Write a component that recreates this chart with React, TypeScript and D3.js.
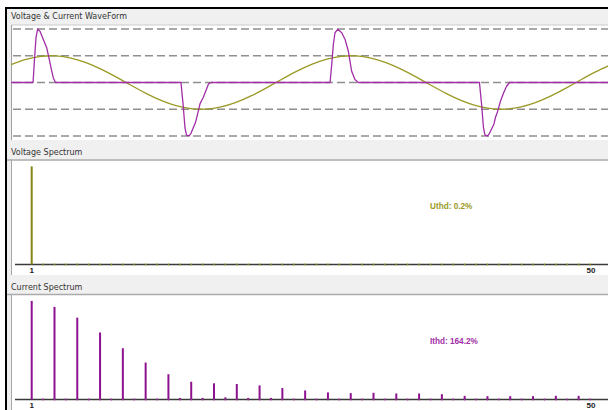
import React from 'react';
import * as d3 from 'd3';

const W = 608;
const H = 410;

// Waveform window: two mains cycles, time in milliseconds
const waveTimeMs = [
  0, 1, 2, 3, 4, 5, 6, 7, 8, 9, 10, 11, 12, 13, 14, 15, 16, 17, 18, 19, 20,
  21, 22, 23, 24, 25, 26, 27, 28, 29, 30, 31, 32, 33, 34, 35, 36, 37, 38, 39, 40,
];
// Voltage, per-unit of peak
const voltagePu = [
  0.669, 0.866, 0.978, 0.995, 0.914, 0.744, 0.501, 0.209, -0.103, -0.406, -0.669,
  -0.866, -0.978, -0.995, -0.914, -0.744, -0.501, -0.209, 0.103, 0.406, 0.669,
  0.866, 0.978, 0.995, 0.914, 0.744, 0.501, 0.209, -0.103, -0.406, -0.669,
  -0.866, -0.978, -0.995, -0.914, -0.744, -0.501, -0.209, 0.103, 0.406, 0.669,
];

// Current pulses (rectifier input), sampled times and values
const currentTimeMs = [
  0,
  1.47, 1.57, 1.67, 1.78, 1.93, 2.15, 2.38, 2.53, 2.67, 2.82, 2.97,
  11.33, 11.47, 11.6, 11.7, 11.87, 12.0, 12.13, 12.3, 12.43, 12.6, 12.82, 13.0, 13.17, 13.33,
  21.27, 21.38, 21.49, 21.6, 21.78, 22.05, 22.27, 22.49, 22.6, 22.71, 22.93, 23.15,
  31.23, 31.37, 31.5, 31.6, 31.77, 31.9, 32.03, 32.2, 32.3, 32.43, 32.63, 32.83, 33.03, 33.23,
  40,
];
const currentPu = [
  0,
  0, 0.9, 1.7, 2.0, 1.92, 1.62, 1.3, 0.92, 0.55, 0.17, 0,
  0, -0.8, -1.7, -1.97, -2.0, -1.9, -1.72, -1.5, -1.2, -0.8, -0.55, -0.3, -0.05, 0,
  0, 0.67, 1.42, 1.86, 1.99, 1.86, 1.61, 1.17, 0.8, 0.42, 0.11, 0,
  0, -0.8, -1.7, -1.97, -2.0, -1.9, -1.75, -1.55, -1.3, -1.1, -0.7, -0.4, -0.15, 0,
  0,
];
const gridLevels = [-2, -1, 0, 1, 2];

// Harmonic spectra, % of fundamental
const harmonicOrders = d3.range(1, 51);
const voltageSpectrum = [
  100, 0, 0.15, 0, 0.1, 0, 0.05, 0, 0, 0,
  0, 0, 0, 0, 0, 0, 0, 0, 0, 0,
  0, 0, 0, 0, 0, 0, 0, 0, 0, 0,
  0, 0, 0, 0, 0, 0, 0, 0, 0, 0,
  0, 0, 0, 0, 0, 0, 0, 0, 0, 0,
];
const currentSpectrum = [
  100, 0.6, 93.9, 0.6, 83, 0.6, 68, 0.6, 52, 0.6,
  37.5, 0.6, 25.6, 1.6, 18, 1.6, 16.4, 2.2, 15.7, 1.6,
  14.3, 1.6, 11.6, 0.6, 9.2, 0.6, 7.2, 0.6, 6.5, 0.6,
  6.8, 0.6, 6.1, 0.6, 6.1, 0.6, 5.4, 0.6, 3.7, 0.6,
  3.4, 0.6, 3.4, 0.6, 3.4, 0.6, 3.7, 0.6, 3.7, 0.6,
];
const harmonicTickLabels = [1, 50];
const voltageThd = 0.2;
const currentThd = 164.2;

const panelTitles = ['Voltage & Current WaveForm', 'Voltage Spectrum', 'Current Spectrum'];

const VOLT_COLOR = '#9a9a26';
const VOLT_BAR = '#85851a';
const CURR_COLOR = '#a12ea6';
const CURR_BAR = '#8e1290';

const hx = d3.scaleLinear().domain([1, 50]).range([31.7, 590]);

type SpectrumProps = {
  top: number;
  baseline: number;
  labelY: number;
  values: number[];
  barColor: string;
  dotColor: string;
  thdText: string;
  thdColor: string;
  thdY: number;
};

function Spectrum({ top, baseline, labelY, values, barColor, dotColor, thdText, thdColor, thdY }: SpectrumProps) {
  const y = d3.scaleLinear().domain([0, 107]).range([baseline, top]);
  return (
    <g>
      <rect x={11} y={top} width={W} height={H} fill="#ffffff" />
      <line x1={7} x2={W} y1={top + 0.5} y2={top + 0.5} stroke="#aaaaaa" strokeWidth={1.5} />
      <line x1={11.5} x2={11.5} y1={top} y2={top + 120} stroke="#a8a8a8" strokeWidth={1} />
      <line x1={15} x2={W} y1={baseline} y2={baseline} stroke="#3a3a3a" strokeWidth={1.3} />
      {harmonicOrders.map((n) =>
        n > 1 ? (
          <rect key={`d${n}`} x={hx(n) - 0.6} y={baseline - 1.5} width={1.2} height={3} fill={dotColor} opacity={0.7} />
        ) : null
      )}
      {harmonicOrders.map((n, i) =>
        values[i] > 0 ? (
          <rect
            key={`b${n}`}
            x={hx(n) - 1}
            y={y(values[i])}
            width={2}
            height={baseline - y(values[i])}
            fill={barColor}
          />
        ) : null
      )}
      {harmonicTickLabels.map((n) => (
        <text
          key={`t${n}`}
          x={hx(n) + (n === 50 ? 1 : 0)}
          y={labelY}
          textAnchor="middle"
          fontFamily="'Liberation Sans', Arial, sans-serif"
          fontWeight="bold"
          fontSize={8}
          fill="#222"
        >
          {n}
        </text>
      ))}
      <text
        x={430}
        y={thdY}
        fontFamily="'Liberation Sans', Arial, sans-serif"
        fontWeight="bold"
        fontSize={8.2}
        fill={thdColor}
      >
        {thdText}
      </text>
    </g>
  );
}

export default function App() {
  const x = d3.scaleLinear().domain([0, 40]).range([11, 611]);
  const yW = d3.scaleLinear().domain([-2.15, 2.15]).range([140, 25]);

  const voltagePath =
    d3
      .line<number>()
      .x((_, i) => x(waveTimeMs[i]))
      .y((d) => yW(d))
      .curve(d3.curveNatural)(voltagePu) || '';
  const currentPath =
    d3
      .line<number>()
      .x((_, i) => x(currentTimeMs[i]))
      .y((d) => yW(d))(currentPu) || '';

  const titleStyle = {
    fontFamily: "'DejaVu Sans', Verdana, sans-serif",
    fontSize: 8,
    fill: '#333333',
  };

  return (
    <svg
      width={W}
      height={H}
      viewBox={`0 0 ${W} ${H}`}
      style={{ position: 'absolute', left: 0, top: 0, display: 'block' }}
    >
      <rect x={0} y={0} width={W} height={H} fill="#ffffff" />
      <rect x={7} y={9} width={W} height={H} fill="#f0f0f0" />
      <rect x={5} y={7} width={W} height={2} fill="#000000" />
      <rect x={5} y={7} width={2} height={H} fill="#000000" />

      {/* Waveform panel */}
      <text x={11} y={19.3} {...titleStyle}>
        {panelTitles[0]}
      </text>
      <rect x={11} y={25} width={W} height={115} fill="#ffffff" />
      <line x1={11} x2={W} y1={25} y2={25} stroke="#cccccc" strokeWidth={1} />
      <line x1={11.5} x2={11.5} y1={25} y2={140} stroke="#a0a0a0" strokeWidth={1} />
      {gridLevels.map((g) => (
        <line
          key={g}
          x1={11}
          x2={W}
          y1={yW(g)}
          y2={yW(g)}
          stroke="#8f8f8f"
          strokeWidth={1.5}
          strokeDasharray="8 4"
          strokeDashoffset={-2}
        />
      ))}
      <path d={voltagePath} fill="none" stroke={VOLT_COLOR} strokeWidth={1.3} />
      <path d={currentPath} fill="none" stroke={CURR_COLOR} strokeWidth={1.3} strokeLinejoin="round" />

      {/* Voltage spectrum panel */}
      <text x={11} y={155} {...titleStyle}>
        {panelTitles[1]}
      </text>
      <Spectrum
        top={159.5}
        baseline={264.5}
        labelY={272.8}
        values={voltageSpectrum}
        barColor={VOLT_BAR}
        dotColor="#b5b53a"
        thdText={`Uthd: ${voltageThd}%`}
        thdColor={VOLT_COLOR}
        thdY={209.3}
      />
      <rect x={7} y={275} width={W} height={19} fill="#f0f0f0" />

      {/* Current spectrum panel */}
      <text x={11} y={290} {...titleStyle}>
        {panelTitles[2]}
      </text>
      <Spectrum
        top={294}
        baseline={399.5}
        labelY={408}
        values={currentSpectrum}
        barColor={CURR_BAR}
        dotColor="#c45cc8"
        thdText={`Ithd: ${currentThd}%`}
        thdColor={CURR_COLOR}
        thdY={344.3}
      />
    </svg>
  );
}
